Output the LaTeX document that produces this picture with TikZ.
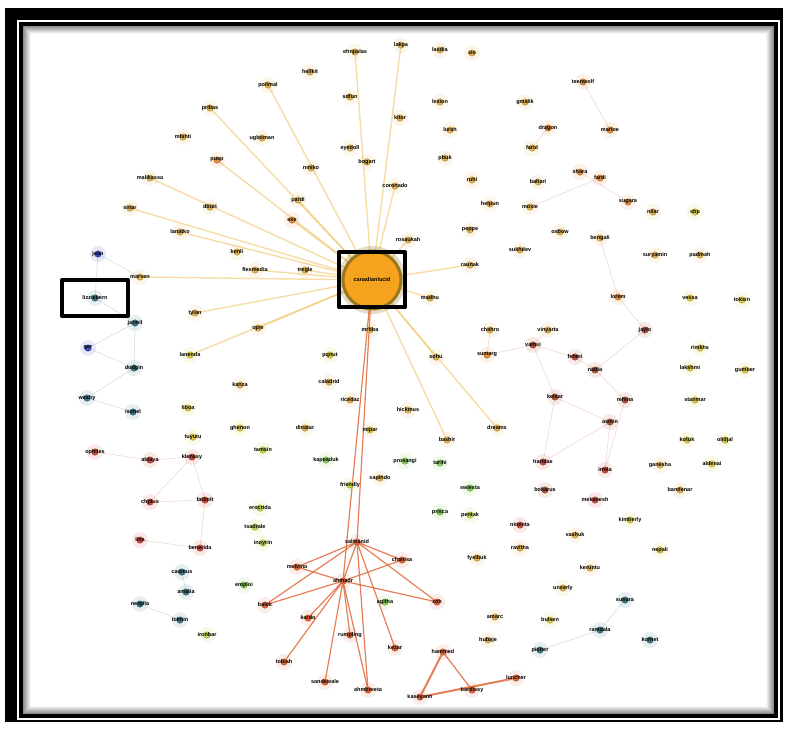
\documentclass[tikz,border=0pt]{standalone}
\usepackage{fontspec}
\setmainfont{Liberation Sans}
\usetikzlibrary{positioning}
\definecolor{cyo}{HTML}{E6B54E}
\definecolor{cor}{HTML}{E58E3A}
\definecolor{cbr}{HTML}{B5543F}
\definecolor{crd}{HTML}{CF4B3B}
\definecolor{cgr}{HTML}{8CD35A}
\definecolor{cyg}{HTML}{C6D84E}
\definecolor{cye}{HTML}{E2CE42}
\definecolor{ctl}{HTML}{3D7A86}
\definecolor{cbl}{HTML}{3A4EC2}
\definecolor{ccl}{HTML}{E2683A}
\definecolor{cfan}{HTML}{F0C66A}
\definecolor{chub}{HTML}{F5A21E}
\definecolor{chubd}{HTML}{9A7620}
\pgfdeclarelayer{frame}
\pgfdeclarelayer{bg}
\pgfsetlayers{frame,bg,main}
\tikzset{
  usr/.style={circle, inner sep=0pt, minimum size=6.5pt, fill=#1, draw=#1!70!black, line width=0.4pt},
  halo/.style={circle, inner sep=0pt, minimum size=16pt, fill=#1, opacity=0.12},
  lbl/.style={font=\fontsize{5.5}{6}\selectfont\bfseries, inner sep=0pt, text=black},
  fan/.style={draw=cfan, line width=1.4pt, opacity=0.6},
  hot/.style={draw=ccl, line width=1.2pt, opacity=0.85},
  faint/.style={draw=#1, line width=0.5pt, opacity=0.25},
  markbox/.style={draw, line width=4pt, inner sep=0pt}
}
\begin{document}
\begin{tikzpicture}[x=1pt, y=-1pt, line join=round, line cap=round]
\useasboundingbox (0,0) rectangle (786,729);
% frame
\begin{pgfonlayer}{frame}
  \fill[white] (0,0) rectangle (786,729);
  \fill[black] (5,8) rectangle (783,722);
  \fill[white] (17,20) rectangle (780,720);
  \fill[black] (19,22) rectangle (778,718);
  \fill[white] (23,26) rectangle (774,714);
  \foreach \i [evaluate=\i as \g using 45-6*\i] in {0,...,7}
    \draw[black!\g, line width=1pt] (23.5+\i,26.5+\i) rectangle (773.5-\i,713.5-\i);
\end{pgfonlayer}

% users
\foreach \nm/\x/\y/\c/\t in {
  t1/401/45/cyo/lakpa, t2/355/52/cyo/ehnpalas, t3/440/50/cyo/lasdia, t4/472/53/cyo/sio,
  t6/310/72/cyo/hellkit, t7/583/82/cor/teenwolf, t8/268/85/cyo/polimal, t9/350/97/cyo/sdfun,
  t10/440/102/cyo/lexion, t11/525/102/cyo/gmalik, t12/210/108/cyo/pribas, t13/400/118/cyo/kitor,
  t14/548/128/cor/dragon, t15/610/130/cor/marloe, t16/183/137/cyo/mfahti, t17/262/138/cyo/ugboman,
  t18/350/148/cyo/eyedoll, t19/450/130/cyo/lurah, t20/445/158/cyo/pbuk, t21/532/148/cyo/farid,
  t22/367/162/cyo/bogart, t23/217/160/cor/pusp, t24/150/178/cyo/malikassa, t25/311/168/cyo/nmiko,
  t26/580/172/cor/shara, t27/600/178/cor/fardi, t28/472/180/cyo/ruhl, t29/395/186/cyo/coronado,
  t30/538/182/cyo/bahari, t31/628/202/cor/sugara, t32/210/207/cyo/dbutt, t33/130/208/cyo/sinar,
  t34/298/200/cyo/pardi, t35/490/204/cyo/helpun, t36/530/207/cyo/moxie, t37/653/212/cyo/nilar,
  t38/695/212/cye/sbp, t39/292/220/cor/exe, t40/180/232/cyo/lanatko, t41/560/232/cyo/oxbow,
  t42/470/230/cyo/peppe, t43/408/240/cyo/rosaukah,
  l1/98/254/cbl/jean, l2/140/277/cyo/marven, l3/255/270/cyo/flexmedia, l4/237/252/cyo/kenli,
  l5/305/270/cyo/tregle, l6/95/298/ctl/lizziebern, l7/135/323/ctl/jarmil, l8/195/313/cyo/tylan,
  l9/258/328/cyo/opie, l10/88/348/cbl/ger, l11/134/368/ctl/dodgin, l12/190/355/cye/lanenda,
  l13/87/398/ctl/wesby, l14/133/412/ctl/isobel, l15/188/408/cye/liboa, l16/240/385/cyo/kanza,
  l17/193/437/cye/tuyutu, l18/240/428/cye/ghenon, l19/305/428/cyo/dinatar, l20/95/452/crd/ophiles,
  l21/150/460/crd/ablaya, l22/192/457/crd/klenasy, l23/263/450/cyg/tamsin, l24/150/502/crd/chplus,
  l25/205/500/crd/fatbolt, l26/260/508/cyg/erocrida, l27/140/540/crd/lina, l28/200/548/crd/benerida,
  l29/263/543/cyg/inoyrin, l30/182/572/ctl/cadmus, l31/140/604/ctl/nerpfia, l32/186/592/ctl/amalia,
  l33/180/620/ctl/tolmin, l34/207/635/cyg/ironbar,
  m1/370/330/cyo/mrbba, m2/330/355/cye/pqnut, m3/436/357/cyo/sohu, m4/329/382/cyo/caladrid,
  m5/350/400/cyo/ricedaz, m6/408/410/cyo/hickmus, m7/447/440/cyo/bashir, m8/370/430/cye/mipar,
  m9/326/460/cgr/kapeaduk, m10/405/461/cgr/prosangi, m11/440/463/cgr/tarihi, m12/350/485/cyg/friendly,
  m13/380/478/cyo/sapindo, m14/470/488/cgr/swiesta, m15/440/512/cgr/prisca, m16/470/515/cyg/pentak,
  m17/385/602/cgr/agitha, m18/244/585/cgr/emploi, m19/255/527/cyg/tsadrale,
  r1/470/265/cyo/raunak, r2/520/250/cyo/sukhdev, r3/600/238/cyo/bengali, r4/655/255/cyo/suryamin,
  r5/700/255/cyo/padmah, r6/430/298/cyo/madhu, r7/490/330/cyo/chahro, r8/548/330/cyo/vinyarta,
  r9/618/297/cor/lorem, r10/690/298/cye/vessa, r11/742/300/cye/toksin, r12/533/345/cbr/vamsi,
  r13/645/330/cbr/jaylo, r14/700/348/cye/rimkhs, r15/487/355/cor/sumarg, r16/575/357/cbr/fehmi,
  r17/595/370/cbr/nadia, r18/690/368/cye/lakshmi, r19/745/370/cye/gumber, r20/555/397/cbr/kelsar,
  r21/625/400/cbr/rehina, r22/695/400/cye/stanmar, r23/497/428/cyo/dreams, r24/610/422/cbr/asmin,
  r25/687/440/cye/kotuk, r26/725/440/cye/olidjal, r27/543/462/crd/haridas, r28/605/470/crd/irrela,
  r29/660/465/cyo/ganesha, r30/712/464/cye/aldenai, r31/545/490/cbr/bokarus, r32/595/500/crd/mekanesh,
  r33/680/490/cyo/bandenar, r34/520/525/crd/ninenta, r35/575/535/cyo/vashuk, r36/630/520/cye/kimberly,
  r37/660/550/cye/nepali, r38/520/548/cyo/ravitha, r39/590/568/cyo/keruntu, r40/477/558/cyo/fyelbuk,
  r41/563/588/cyo/unserly, r42/625/600/ctl/sunara, r43/600/630/ctl/ramdala, r44/550/620/cye/bulsen,
  r45/495/617/cyo/amarc, r46/488/640/cyo/hubaje, r47/540/650/ctl/pioner, r48/650/640/ctl/kornet,
  c1/357/542/ccl/salmanid, c2/343/581/ccl/ahmadr, c3/297/567/ccl/melvina, c4/402/560/ccl/chanisa,
  c5/265/605/ccl/balek, c6/308/618/ccl/kardo, c7/350/635/ccl/rumpling, c8/437/602/ccl/zoh,
  c9/395/648/ccl/kezar, c10/284/662/ccl/tobiah, c11/325/682/ccl/sandewale, c12/368/690/ccl/ahmbreeta,
  c13/443/652/ccl/hammed, c14/420/697/ccl/kaseyann, c15/516/678/ccl/luncher, c16/472/690/ccl/bardissy}
{
  \node[halo=\c] at (\x,\y) {};
  \node[usr=\c] (\nm) at (\x,\y) {};
  \node[lbl] (\nm t) at (\x,\y) {\t};
}

% hub
\node[circle, minimum size=68pt, fill=chubd, opacity=0.25] at (372,280) {};
\node[circle, minimum size=58pt, fill=chub, draw=chubd, line width=3pt] (hub) at (372,280) {};
\node[lbl] (hubt) at (hub) {canadianlucid};
\node[markbox, minimum width=66pt, minimum height=55pt] (hubbox) at (372,279.5) {};
\node[markbox, minimum width=66pt, minimum height=36pt] (lizbox) at (95,298) {};

\begin{pgfonlayer}{bg}
  % faint links
  \foreach \a/\b in {r12/r20, r20/r24, r16/r17, r17/r21, r13/r17, r24/r27, r12/r16, r15/r12,
                     r20/r27, r8/r12, r28/r24, r21/r28, r13/r9, r7/r15, t26/t31, t14/t21,
                     t7/t15, r3/r9, t27/t36}
    \draw[faint=crd] (\a) -- (\b);
  \foreach \a/\b in {l1/l6, l6/l7, l7/l10, l10/l11, l11/l13, l13/l14, l7/l11, l1/l2,
                     l30/l32, l31/l33, r42/r43, r43/r47}
    \draw[faint=ctl] (\a) -- (\b);
  \foreach \a/\b in {l20/l21, l21/l22, l22/l24, l24/l25, l25/l28, l27/l28, l22/l25}
    \draw[faint=crd] (\a) -- (\b);
  % links to the hub
  \foreach \e in {t1, t2, t8, t12, t23, t24, t33, t40, t39, t34, t43, t29,
                  l2, l3, l5, l8, l12, l9, m3, m7, r23, r1, r6}
    \draw[fan] (hub) -- (\e);
  \draw[hot] (hub) -- (c1);
  \draw[hot] (hub) -- (c2);
  % cluster at the bottom
  \foreach \e in {c2, c3, c4, c5, c8, c9, c12}
    \draw[hot] (c1) -- (\e);
  \foreach \e in {c3, c4, c5, c6, c7, c8, c10, c11, c12}
    \draw[hot] (c2) -- (\e);
  \draw[hot, line width=2pt] (c14) -- (c13);
  \draw[hot, line width=2pt] (c14) -- (c15);
  \draw[hot] (c13) -- (c16);
\end{pgfonlayer}
\end{tikzpicture}
\end{document}
